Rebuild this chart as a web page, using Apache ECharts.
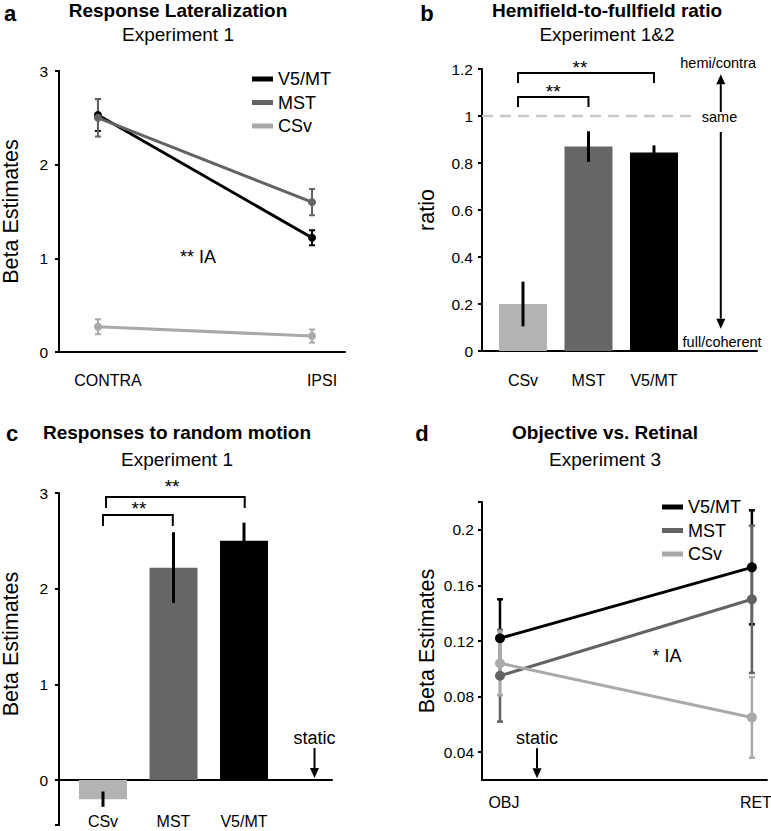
<!DOCTYPE html>
<html><head><meta charset="utf-8">
<script src="https://cdn.jsdelivr.net/npm/echarts@6/dist/echarts.min.js"></script>
<style>html,body{margin:0;padding:0;background:#fff}#chart{width:771px;height:831px}</style>
</head><body><div id="chart"></div>
<script>
// ---------- DATA ----------
// (a) Response Lateralization, Experiment 1
const latCategories = ['CONTRA', 'IPSI'];
const latV5 = [2.53, 1.22];
const latV5Err = [0.17, 0.08];
const latMST = [2.50, 1.60];
const latMSTErr = [0.20, 0.14];
const latCSv = [0.27, 0.17];
const latCSvErr = [0.08, 0.07];
const latTicks = [0, 1, 2, 3];

// (b) Hemifield-to-fullfield ratio, Experiment 1&2
const ratioCategories = ['CSv', 'MST', 'V5/MT'];
const ratioValues = [0.20, 0.87, 0.845];
const ratioErr = [0.095, 0.065, 0.03];
const ratioTicks = [0, 0.2, 0.4, 0.6, 0.8, 1, 1.2];

// (c) Responses to random motion, Experiment 1
const randCategories = ['CSv', 'MST', 'V5/MT'];
const randValues = [-0.20, 2.22, 2.50];
const randErr = [0.08, 0.37, 0.19];
const randTicks = [0, 1, 2, 3];

// (d) Objective vs. Retinal, Experiment 3
const objCategories = ['OBJ', 'RET'];
const objV5 = [0.122, 0.173];
const objV5Err = [0.028, 0.041];
const objMST = [0.095, 0.150];
const objMSTErr = [0.033, 0.053];
const objCSv = [0.104, 0.065];
const objCSvErr = [0.023, 0.029];
const objTicks = [0.04, 0.08, 0.12, 0.16, 0.2];

// ---------- STYLE ----------
const FONT = '"Liberation Sans", Arial, Helvetica, sans-serif';
const COL_V5 = '#000000', COL_MST = '#636363', COL_CSV = '#a9a9a9';
const BAR_COLORS = ['#b3b3b3', '#666666', '#000000'];

function errorBars(gi, vals, errs, color, width, cap) {
  return {
    type: 'custom', xAxisIndex: gi, yAxisIndex: gi, clip: false, silent: true, z: 3,
    encode: { x: 0, y: 1 },
    data: vals.map((v, i) => [i, v, errs[i]]),
    renderItem(params, api) {
      const x = api.value(0), y = api.value(1), e = api.value(2);
      const t = api.coord([x, y + e]), b = api.coord([x, y - e]);
      const st = { stroke: color, lineWidth: width };
      const ch = [{ type: 'line', shape: { x1: t[0], y1: t[1], x2: b[0], y2: b[1] }, style: st }];
      if (cap) {
        ch.push({ type: 'line', shape: { x1: t[0] - cap, y1: t[1], x2: t[0] + cap, y2: t[1] }, style: st });
        ch.push({ type: 'line', shape: { x1: b[0] - cap, y1: b[1], x2: b[0] + cap, y2: b[1] }, style: st });
      }
      return { type: 'group', children: ch };
    }
  };
}

function lineSeries(gi, name, vals, color, size) {
  return {
    type: 'line', name, xAxisIndex: gi, yAxisIndex: gi, z: 3,
    data: vals.map((v, i) => [i, v]),
    symbol: 'circle', symbolSize: size, showSymbol: true,
    color, lineStyle: { width: 3, color }, itemStyle: { color },
    emphasis: { disabled: true }
  };
}

function barSeries(gi, vals) {
  return {
    type: 'bar', xAxisIndex: gi, yAxisIndex: gi, barWidth: 48, z: 2,
    data: vals.map((v, i) => ({ value: [i, v], itemStyle: { color: BAR_COLORS[i] } })),
    emphasis: { disabled: true }
  };
}

// annotation items: text / bracket / arrow / dash, positioned in data coordinates
function annotations(gi, items) {
  return {
    type: 'custom', xAxisIndex: gi, yAxisIndex: gi, clip: false, silent: true, z: 4,
    encode: { x: 0, y: 1 },
    data: items.map(it => it.at),
    renderItem(params, api) {
      const it = items[params.dataIndex];
      if (it.kind === 'text') {
        const p = api.coord(it.at);
        return { type: 'text', x: p[0], y: p[1], style: {
          text: it.text, fontSize: it.size || 15, fontFamily: FONT, fontWeight: it.bold ? 'bold' : 'normal',
          fill: '#000', align: 'center', verticalAlign: 'middle' } };
      }
      if (it.kind === 'bracket') {
        const a = api.coord([it.x1, it.leg]), b = api.coord([it.x1, it.top]);
        const c = api.coord([it.x2, it.top]), d = api.coord([it.x2, it.leg]);
        return { type: 'polyline', shape: { points: [a, b, c, d] }, style: { stroke: '#000', lineWidth: 2, fill: null } };
      }
      if (it.kind === 'arrow') {
        const p1 = api.coord(it.at), p2 = api.coord(it.to);
        const dir = p2[1] > p1[1] ? 1 : -1;
        const hl = 10, hw = 4.5;
        const base = p2[1] - dir * hl;
        return { type: 'group', children: [
          { type: 'line', shape: { x1: p1[0], y1: p1[1], x2: p2[0], y2: base }, style: { stroke: '#000', lineWidth: 2 } },
          { type: 'polygon', shape: { points: [[p2[0], p2[1]], [p2[0] - hw, base], [p2[0] + hw, base]] }, style: { fill: '#000' } }
        ] };
      }
      if (it.kind === 'dash') {
        const p1 = api.coord(it.at), p2 = api.coord(it.to);
        return { type: 'line', shape: { x1: p1[0], y1: p1[1], x2: p2[0], y2: p2[1] },
          style: { stroke: '#c8c8c8', lineWidth: 2.5, lineDash: [11, 7] } };
      }
      return null;
    }
  };
}

const axisLineStyle = { color: '#000', width: 2 };
function xAxis(gi, min, max, cats, margin, pad) {
  return {
    type: 'value', gridIndex: gi, min, max,
    axisLine: { show: true, onZero: true, lineStyle: axisLineStyle },
    axisTick: { show: false }, splitLine: { show: false },
    axisLabel: {
      customValues: cats.map((c, i) => i),
      formatter: v => cats[Math.round(v)],
      margin, fontSize: 16, color: '#000', fontFamily: FONT, padding: pad || 0
    }
  };
}
function yAxis(gi, min, max, labelVals, tickVals, fmt, name, nameGap, labelMargin, namePad) {
  return {
    type: 'value', gridIndex: gi, min, max,
    axisLine: { show: true, onZero: false, lineStyle: axisLineStyle },
    axisTick: { show: true, inside: false, length: 4, lineStyle: axisLineStyle, customValues: tickVals },
    splitLine: { show: false },
    axisLabel: { customValues: labelVals, formatter: fmt, margin: labelMargin, fontSize: 15.5, color: '#000', fontFamily: FONT },
    name, nameLocation: 'middle', nameGap,
    nameTextStyle: { fontSize: 21.5, color: '#000', fontFamily: FONT, padding: namePad || 0 }
  };
}
const fmtNum = v => String(+(+v).toFixed(2));

function titleItem(text, cx, top, size, bold) {
  return { text, left: cx, top, textAlign: 'center', padding: 0,
    textStyle: { fontSize: size, fontWeight: bold ? 'bold' : 'normal', color: '#000', fontFamily: FONT } };
}

const chart = echarts.init(document.getElementById('chart'), null, { renderer: 'svg' });
const option = {
  animation: false,
  backgroundColor: '#fff',
  title: [
    titleItem('a', 10, 2, 22, true),
    titleItem('Response Lateralization', 178, 1, 19, true),
    titleItem('Experiment 1', 178, 25, 19, false),
    titleItem('b', 427, 2, 22, true),
    titleItem('Hemifield-to-fullfield ratio', 607, 1, 19, true),
    titleItem('Experiment 1&2', 607, 25, 19, false),
    titleItem('c', 12, 422, 22, true),
    titleItem('Responses to random motion', 177, 423, 19, true),
    titleItem('Experiment 1', 177, 450, 19, false),
    titleItem('d', 422, 422, 22, true),
    titleItem('Objective vs. Retinal', 605, 423, 19, true),
    titleItem('Experiment 3', 605, 450, 19, false)
  ],
  legend: [
    { data: ['V5/MT', 'MST', 'CSv'], orient: 'vertical', left: 252, top: 70, itemWidth: 21, itemHeight: 5,
      icon: 'rect', itemGap: 5.5, selectedMode: false, padding: 0,
      textStyle: { fontSize: 18, color: '#000', fontFamily: FONT } },
    { data: ['V5/MT', 'MST', 'CSv'], orient: 'vertical', left: 662, top: 498, itemWidth: 21, itemHeight: 5,
      icon: 'rect', itemGap: 5.5, selectedMode: false, padding: 0,
      textStyle: { fontSize: 18, color: '#000', fontFamily: FONT } }
  ],
  grid: [
    { left: 59, top: 71, width: 286, height: 281, outerBoundsMode: 'none', containLabel: false },
    { left: 482, top: 69, width: 275, height: 282, outerBoundsMode: 'none', containLabel: false },
    { left: 59, top: 493, width: 273, height: 332, outerBoundsMode: 'none', containLabel: false },
    { left: 482, top: 502, width: 285, height: 278, outerBoundsMode: 'none', containLabel: false }
  ],
  xAxis: [
    xAxis(0, -0.182, 1.154, latCategories, 20, [0, 0, 0, 20]),
    xAxis(1, -0.626, 3.573, ratioCategories, 21),
    xAxis(2, -0.624, 3.248, randCategories, -12),
    xAxis(3, -0.0714, 1.06, objCategories, 14, [0, 0, 0, 8])
  ],
  yAxis: [
    yAxis(0, 0, 3, latTicks, latTicks, fmtNum, 'Beta Estimates', 37, 11),
    yAxis(1, 0, 1.2, ratioTicks, ratioTicks, fmtNum, 'ratio', 44, 9),
    yAxis(2, -0.47, 3, randTicks, [-0.47].concat(randTicks), fmtNum, 'Beta Estimates', 37, 11, [0, 0, 0, 30]),
    yAxis(3, 0.02, 0.22, objTicks, objTicks.concat([0.22]), fmtNum, 'Beta Estimates', 44, 8)
  ],
  series: [
    // (a)
    errorBars(0, latV5, latV5Err, COL_V5, 2, 3),
    lineSeries(0, 'V5/MT', latV5, COL_V5, 8),
    errorBars(0, latMST, latMSTErr, COL_MST, 2, 3),
    lineSeries(0, 'MST', latMST, COL_MST, 8),
    errorBars(0, latCSv, latCSvErr, COL_CSV, 2, 3),
    lineSeries(0, 'CSv', latCSv, COL_CSV, 8),
    annotations(0, [{ kind: 'text', at: [0.467, 1.01], text: '** IA', size: 18 }]),
    // (b)
    barSeries(1, ratioValues),
    errorBars(1, ratioValues, ratioErr, '#000', 3, 0),
    annotations(1, [
      { kind: 'dash', at: [-0.626, 1], to: [2.67, 1] },
      { kind: 'bracket', at: [-0.076, 1.183], x1: -0.076, x2: 2.0, top: 1.183, leg: 1.14 },
      { kind: 'bracket', at: [-0.076, 1.081], x1: -0.076, x2: 1.0, top: 1.081, leg: 1.038 },
      { kind: 'text', at: [0.87, 1.205], text: '**', size: 19 },
      { kind: 'text', at: [0.46, 1.103], text: '**', size: 19 },
      { kind: 'text', at: [2.98, 1.226], text: 'hemi/contra', size: 14.5 },
      { kind: 'text', at: [3.0, 0.996], text: 'same', size: 14.5 },
      { kind: 'text', at: [3.04, 0.038], text: 'full/coherent', size: 14.5 },
      { kind: 'arrow', at: [3.02, 1.017], to: [3.02, 1.178] },
      { kind: 'arrow', at: [3.02, 0.932], to: [3.02, 0.095] }
    ]),
    // (c)
    barSeries(2, randValues),
    errorBars(2, randValues, randErr, '#000', 3, 0),
    annotations(2, [
      { kind: 'bracket', at: [0.043, 2.958], x1: 0.043, x2: 2.01, top: 2.958, leg: 2.843 },
      { kind: 'bracket', at: [0, 2.77], x1: 0, x2: 0.99, top: 2.77, leg: 2.655 },
      { kind: 'text', at: [0.98, 3.065], text: '**', size: 19 },
      { kind: 'text', at: [0.51, 2.835], text: '**', size: 19 },
      { kind: 'text', at: [3.0, 0.44], text: 'static', size: 18 },
      { kind: 'arrow', at: [3.0, 0.334], to: [3.0, 0.02] }
    ]),
    // (d)
    errorBars(3, objV5, objV5Err, COL_V5, 2.5, 3),
    lineSeries(3, 'V5/MT', objV5, COL_V5, 10),
    errorBars(3, objMST, objMSTErr, COL_MST, 2.5, 3),
    lineSeries(3, 'MST', objMST, COL_MST, 10),
    errorBars(3, objCSv, objCSvErr, COL_CSV, 2.5, 3),
    lineSeries(3, 'CSv', objCSv, COL_CSV, 10),
    annotations(3, [
      { kind: 'text', at: [0.663, 0.109], text: '* IA', size: 18 },
      { kind: 'text', at: [0.147, 0.050], text: 'static', size: 18 },
      { kind: 'arrow', at: [0.147, 0.0429], to: [0.147, 0.0213] }
    ])
  ]
};
chart.setOption(option);
</script>
</body></html>
